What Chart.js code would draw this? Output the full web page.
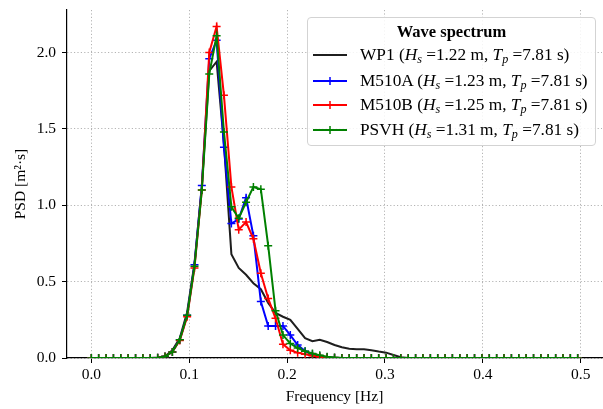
<!DOCTYPE html>
<html>
<head>
<meta charset="utf-8">
<script src="https://cdn.jsdelivr.net/npm/chart.js@4.4.1/dist/chart.umd.min.js"></script>
<style>
  html, body { margin: 0; padding: 0; background: #fff; }
  #wrap { position: relative; width: 603px; height: 409px; }
  #legend {
    position: absolute; left: 307px; top: 17px; width: 289px; height: 129px;
    box-sizing: border-box; border: 1px solid #d3d3d3; border-radius: 4px;
    background: rgba(255,255,255,0.85);
    font-family: "Liberation Serif", serif; font-size: 17.3px; color: #000;
  }
  #legend .title { position: absolute; left: 0; right: 0; top: 14px; transform: translateY(-50%); text-align: center; font-weight: bold; font-size: 16.5px; white-space: nowrap; }
  #legend .row { position: absolute; left: 0; right: 0; transform: translateY(-50%); height: 20px; white-space: nowrap; }
  #legend .row svg { position: absolute; left: 5px; top: 3px; }
  #legend .row span { position: absolute; left: 52px; top: 0; line-height: 20px; }
  #legend sub { font-size: 70%; vertical-align: -0.25em; line-height: 0; }
</style>
</head>
<body>
<div id="wrap">
  <canvas id="c" width="603" height="409"></canvas>
  <div id="legend"><div class="title">Wave spectrum</div></div>
</div>
<script>
// frequency bins [Hz]
const freq = [
  0.0000, 0.0075, 0.0151, 0.0226, 0.0301, 0.0376, 0.0452, 0.0527, 0.0602, 0.0678,
  0.0753, 0.0828, 0.0904, 0.0979, 0.1054, 0.1129, 0.1205, 0.1280, 0.1355, 0.1431,
  0.1506, 0.1581, 0.1656, 0.1732, 0.1807, 0.1882, 0.1958, 0.2033, 0.2108, 0.2184,
  0.2259, 0.2334, 0.2409, 0.2485, 0.2560, 0.2635, 0.2711, 0.2786, 0.2861, 0.2936,
  0.3012, 0.3087, 0.3162, 0.3238, 0.3313, 0.3388, 0.3464, 0.3539, 0.3614, 0.3689,
  0.3765, 0.3840, 0.3915, 0.3991, 0.4066, 0.4141, 0.4216, 0.4292, 0.4367, 0.4442,
  0.4518, 0.4593, 0.4668, 0.4744, 0.4819, 0.4894, 0.4969
];

const seriesNames = ["WP1", "M510A", "M510B", "PSVH"];
const hsValues = ["1.22", "1.23", "1.25", "1.31"];
const tpValues = ["7.81", "7.81", "7.81", "7.81"];

// PSD [m^2 s]
const psdWP1 = [
  0, 0, 0, 0, 0, 0, 0, 0, 0, 0.003,
  0.012, 0.05, 0.13, 0.30, 0.62, 1.12, 1.88, 1.94, 1.40, 0.68,
  0.59, 0.545, 0.49, 0.45, 0.36, 0.295, 0.27, 0.25, 0.19, 0.13,
  0.11, 0.12, 0.105, 0.085, 0.07, 0.06, 0.058, 0.057, 0.05, 0.042,
  0.035, 0.02, 0.005, 0, 0, 0, 0, 0, 0, 0,
  0, 0, 0, 0, 0, 0, 0, 0, 0, 0,
  0, 0, 0, 0, 0, 0, 0
];
const psdM510A = [
  0, 0, 0, 0, 0, 0, 0, 0, 0, 0.002,
  0.01, 0.04, 0.12, 0.28, 0.61, 1.13, 1.96, 2.08, 1.38, 0.88,
  0.91, 1.05, 0.80, 0.37, 0.21, 0.21, 0.21, 0.15, 0.085, 0.045,
  0.025, 0.012, 0.005, 0.002, 0, 0, 0, 0, 0, 0,
  0, 0, 0, 0, 0, 0, 0, 0, 0, 0,
  0, 0, 0, 0, 0, 0, 0, 0, 0, 0,
  0, 0, 0, 0, 0, 0, 0
];
const psdM510B = [
  0, 0, 0, 0, 0, 0, 0, 0, 0, 0.002,
  0.01, 0.04, 0.115, 0.27, 0.59, 1.10, 2.00, 2.17, 1.72, 1.12,
  0.84, 0.89, 0.78, 0.555, 0.39, 0.26, 0.09, 0.05, 0.035, 0.025,
  0.015, 0.008, 0.003, 0.001, 0, 0, 0, 0, 0, 0,
  0, 0, 0, 0, 0, 0, 0, 0, 0, 0,
  0, 0, 0, 0, 0, 0, 0, 0, 0, 0,
  0, 0, 0, 0, 0, 0, 0
];
const psdPSVH = [
  0, 0, 0, 0, 0, 0, 0, 0, 0, 0.002,
  0.01, 0.04, 0.12, 0.28, 0.60, 1.10, 1.86, 2.11, 1.48, 0.99,
  0.915, 1.02, 1.12, 1.105, 0.735, 0.31, 0.15, 0.095, 0.065, 0.045,
  0.03, 0.018, 0.008, 0.003, 0, 0, 0, 0, 0, 0,
  0, 0, 0, 0, 0, 0, 0, 0, 0, 0,
  0, 0, 0, 0, 0, 0, 0, 0, 0, 0,
  0, 0, 0, 0, 0, 0, 0
];

const yTicks = [0, 0.5, 1.0, 1.5, 2.0];
const xTicks = [0, 0.1, 0.2, 0.3, 0.4, 0.5];

const psd = [psdWP1, psdM510A, psdM510B, psdPSVH];
const colors = ["#1e1e1e", "#0000ff", "#ff0000", "#008000"];
const FONT = "'Liberation Serif', serif";

// ===== LEGEND =====
const legendEl = document.getElementById("legend");
const rowTops = [37, 62.5, 87, 111.5];
seriesNames.forEach((name, i) => {
  const row = document.createElement("div");
  row.className = "row";
  row.style.top = rowTops[i] + "px";
  const cross = i === 0 ? "" :
    `<line x1="17" y1="3" x2="17" y2="11" stroke="${colors[i]}" stroke-width="1.5"/>`;
  row.innerHTML = `
    <svg width="34" height="14"><line x1="0" y1="7" x2="34" y2="7" stroke="${colors[i]}" stroke-width="2"/>${cross}</svg>
    <span>${name} (<i>H<sub>s</sub></i> =${hsValues[i]} m, <i>T<sub>p</sub></i> =${tpValues[i]} s)</span>`;
  legendEl.appendChild(row);
});

// ===== CHART =====
const xMax = freq[freq.length - 1];
const yMax = Math.max(...psd.flat());

const gridOpts = { color: "#b4b4b4", lineWidth: 1, tickLength: 5, tickColor: "#000", tickWidth: 1, tickBorderDash: [] };
const borderOpts = { display: true, color: "#000", width: 1.2, dash: [1.2, 2.2] };

new Chart(document.getElementById("c"), {
  type: "line",
  data: {
    datasets: seriesNames.map((name, i) => ({
      label: name,
      data: freq.map((f, j) => ({ x: f, y: psd[i][j] })),
      borderColor: colors[i],
      backgroundColor: colors[i],
      borderWidth: 2,
      pointStyle: "cross",
      pointRadius: i === 0 ? 0 : 4,
      pointBorderWidth: 1.5,
      pointBorderColor: colors[i],
      pointHoverRadius: 0,
      tension: 0,
      fill: false,
      order: 4 - i
    }))
  },
  options: {
    responsive: false,
    animation: false,
    devicePixelRatio: 1,
    layout: { autoPadding: false, padding: { left: 0, right: 1, top: 10, bottom: 0 } },
    plugins: { legend: { display: false }, tooltip: { enabled: false } },
    scales: {
      x: {
        type: "linear",
        min: -0.05 * xMax,
        max: 1.05 * xMax,
        afterBuildTicks: s => { s.ticks = xTicks.map(v => ({ value: v })); },
        ticks: {
          callback: v => v.toFixed(1),
          color: "#000", font: { family: FONT, size: 15.5 }, padding: 3,
          maxRotation: 0, autoSkip: false
        },
        grid: gridOpts,
        border: borderOpts,
        title: { display: true, text: "Frequency [Hz]", color: "#000", font: { family: FONT, size: 15.5 }, padding: { top: 0, bottom: 3 } },
        afterFit: s => { s.height = 51; s.paddingLeft = 0; s.paddingRight = 0; }
      },
      y: {
        type: "linear",
        min: 0,
        max: 1.05 * yMax,
        afterBuildTicks: s => { s.ticks = yTicks.map(v => ({ value: v })); },
        ticks: {
          callback: v => v.toFixed(1),
          color: "#000", font: { family: FONT, size: 15.5 }, padding: 6
        },
        grid: gridOpts,
        border: borderOpts,
        title: { display: true, text: "PSD [m²·s]", color: "#000", font: { family: FONT, size: 15.5 }, padding: { top: 12, bottom: 0 } },
        afterFit: s => { s.width = 67; s.paddingTop = 0; s.paddingBottom = 0; }
      }
    }
  }
});
</script>
</body>
</html>
